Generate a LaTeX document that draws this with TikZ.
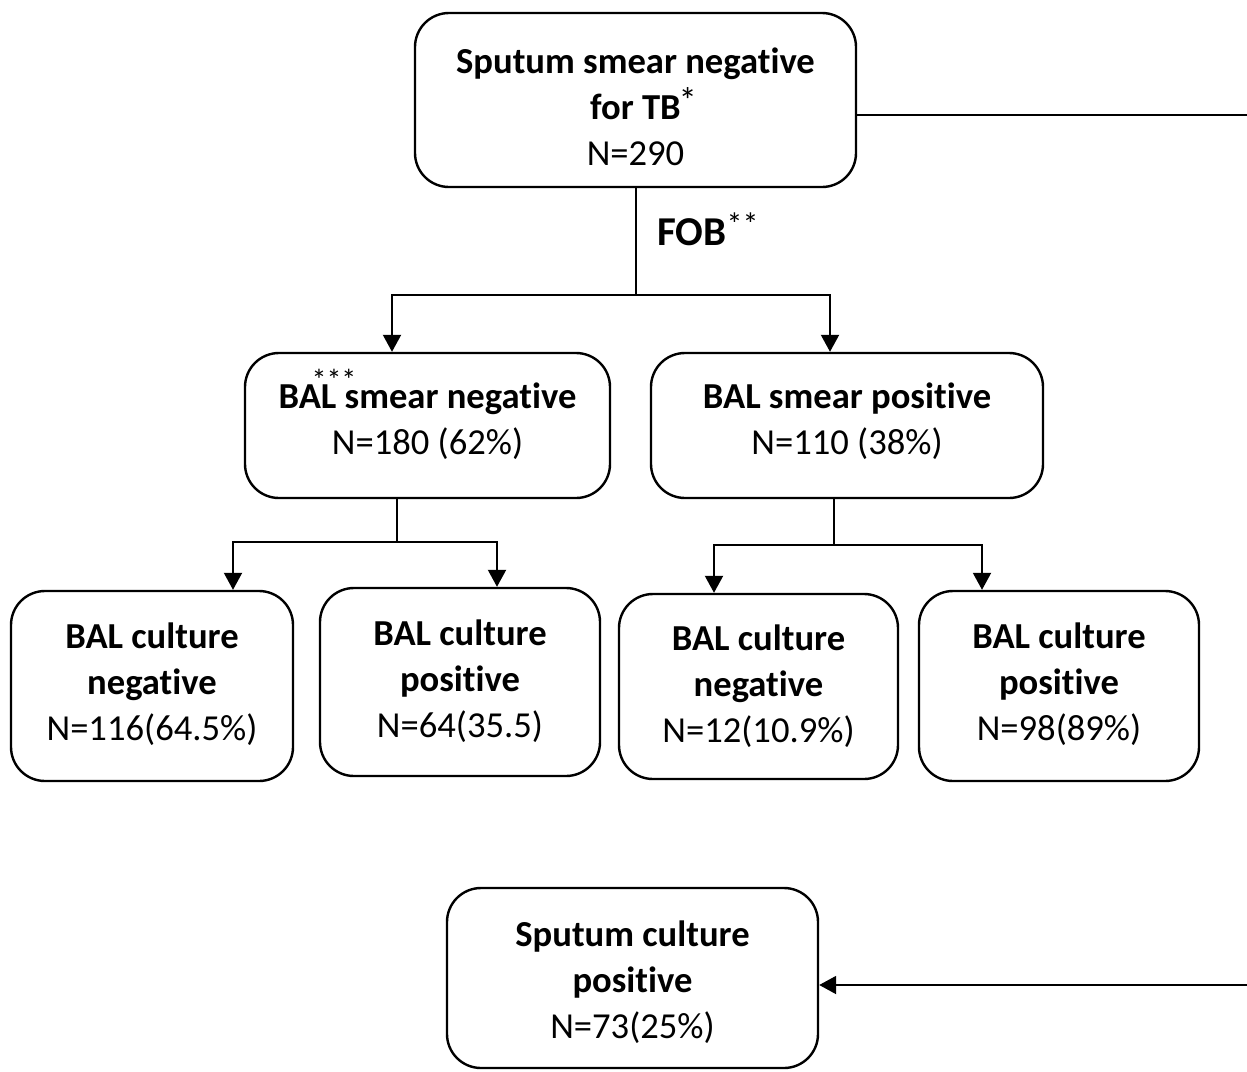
\documentclass[tikz,border=0pt]{standalone}
\usepackage{fontspec}
\setmainfont[Ligatures=NoCommon]{Carlito}
\usetikzlibrary{arrows.meta,calc}
\newcommand{\myast}{\raisebox{0.15em}{\normalfont *}}
\begin{document}
\begin{tikzpicture}[x=0.5pt,y=-0.5pt,
  box/.style={draw, line width=1.2pt, rounded corners=17pt, inner sep=0pt},
  txt/.style={inner sep=0pt, align=center, font=\fontsize{18.3}{23}\selectfont},
  conn/.style={line width=1pt},
  arr/.style={conn, -{Triangle[length=8.5pt,width=9pt]}}]
\useasboundingbox (0,0) rectangle (1247,1071);

% boxes
\node[box, minimum width=220.5pt, minimum height=87pt] (top) at (635.5,100) {};
\node[box, minimum width=182.5pt, minimum height=72.5pt] (sn) at (427.5,425.5) {};
\node[box, minimum width=196pt, minimum height=72.5pt] (sp) at (847,425.5) {};
\node[box, minimum width=141pt, minimum height=95pt] (c1) at (152,686) {};
\node[box, minimum width=140pt, minimum height=94pt] (c2) at (460,682) {};
\node[box, minimum width=139.5pt, minimum height=92.5pt] (c3) at (758.5,686.5) {};
\node[box, minimum width=140pt, minimum height=95pt] (c4) at (1059,686) {};
\node[box, minimum width=185.5pt, minimum height=90pt] (bot) at (632.5,978) {};

% texts
\node[txt] (ttop) at (635.5,106.5)
  {\textbf{Sputum smear negative}\\\hspace*{8pt}\textbf{for TB}\kern-1pt\myast\\N=290};
\node[txt] (tsn) at (427.5,421.5) {\textbf{BAL smear negative}\\N=180 (62\%)};
\node[txt] (tsp) at (847,421.5) {\textbf{BAL smear positive}\\N=110 (38\%)};
\node[txt] (tc1) at (152,684) {\textbf{BAL culture}\\\textbf{negative}\\N=116(64.5\%)};
\node[txt] (tc2) at (460,681) {\textbf{BAL culture}\\\textbf{positive}\\N=64(35.5)};
\node[txt] (tc3) at (758.5,686.5) {\textbf{BAL culture}\\\textbf{negative}\\N=12(10.9\%)};
\node[txt] (tc4) at (1059,684.5) {\textbf{BAL culture}\\\textbf{positive}\\N=98(89\%)};
\node[txt] (tbot) at (632.5,982) {\textbf{Sputum culture}\\\textbf{positive}\\N=73(25\%)};

\node[anchor=west, inner sep=0pt, font=\fontsize{20.5}{24}\selectfont] (fob) at (657,229)
  {\textbf{FOB}\raisebox{0.25em}{\fontsize{16}{18}\selectfont\normalfont **}};
\node[anchor=base, inner sep=0pt, font=\fontsize{15}{16}\selectfont] (ast) at (334,390)
  {\raisebox{0pt}[11.5pt][-6pt]{***}};

\coordinate (j1) at (635.5,295);
\coordinate (j2) at (397,542);
\coordinate (j3) at (834,545);
\coordinate (e1) at (1247,115);
\coordinate (e2) at (1247,985);

\draw[conn] (top.south) -- (j1);
\draw[arr] (j1) -| ([xshift=-17.75pt]sn.north);
\draw[arr] (j1) -| ([xshift=-8.5pt]sp.north);

\draw[conn] ([xshift=-15.25pt]sn.south) -- (j2);
\draw[arr] (j2) -| ([xshift=40.5pt]c1.north);
\draw[arr] (j2) -| ([xshift=18.5pt]c2.north);

\draw[conn] ([xshift=-6.5pt]sp.south) -- (j3);
\draw[arr] (j3) -| ([xshift=-22.25pt]c3.north);
\draw[arr] (j3) -| ([xshift=-38.5pt]c4.north);

\draw[conn] ([yshift=-7.5pt]top.east) -- (e1);
\draw[arr] (e2) -- ([yshift=-3.5pt]bot.east);
\end{tikzpicture}
\end{document}
